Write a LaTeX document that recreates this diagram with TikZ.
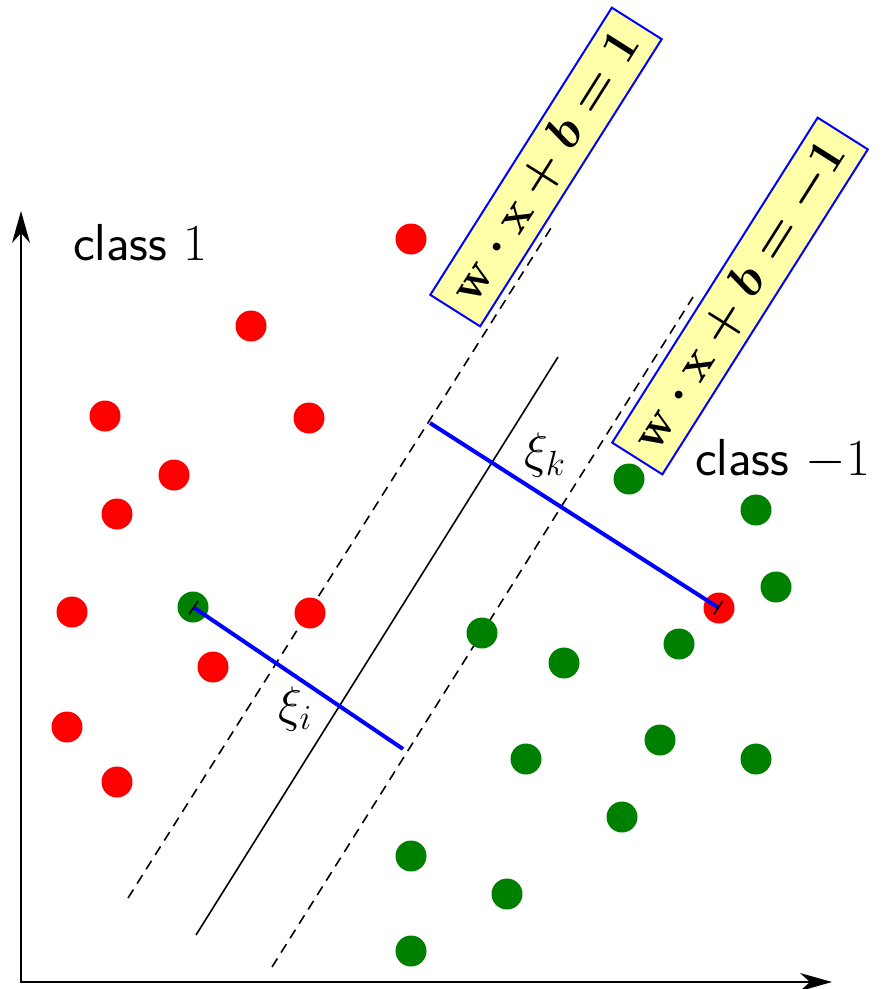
\RequirePackage{fix-cm}
\documentclass[tikz,border=0pt]{standalone}
\usepackage{amsmath}
\usetikzlibrary{arrows.meta}
\definecolor{boxfill}{RGB}{255,255,170}
\definecolor{dotgreen}{RGB}{0,128,0}
\begin{document}
\begin{tikzpicture}[x=1pt,y=-1pt,
  dotred/.style={circle,fill=red,inner sep=0pt,minimum size=31pt},
  dotgrn/.style={circle,fill=dotgreen,inner sep=0pt,minimum size=31pt},
  axisline/.style={line width=1.8pt,{Stealth[length=32pt,width=18pt,inset=10pt]}-{Stealth[length=32pt,width=18pt,inset=10pt]}},
  hyper/.style={line width=1.6pt},
  margin/.style={line width=1.6pt,dash pattern=on 10pt off 7pt},
  slack/.style={line width=4pt,blue,{Bar[black,width=16pt,line width=1.6pt]}-},
  eqbox/.style={draw=blue,fill=boxfill,line width=2pt,inner xsep=14pt,inner ysep=9pt,
    font=\fontsize{50}{60}\selectfont\boldmath},
  lbl/.style={font=\fontsize{52}{62}\selectfont\sffamily,inner sep=0pt},
  xilbl/.style={font=\fontsize{50}{60}\selectfont,inner sep=0pt}
]
\useasboundingbox (0,0) rectangle (881,989);

% axes
\coordinate (ytop) at (21,211);
\coordinate (orig) at (21,982);
\coordinate (xend) at (832,982);
\draw[axisline] (ytop) -- (orig) -- (xend);

% hyperplanes
\coordinate (h0a) at (196,935);
\coordinate (h0b) at (558,357);
\coordinate (hpa) at (128,898);
\coordinate (hpb) at (551,228);
\coordinate (hma) at (272,967);
\coordinate (hmb) at (693,297);
\draw[hyper] (h0a) -- (h0b);
\draw[margin] (hpa) -- (hpb);
\draw[margin] (hma) -- (hmb);

% red points (class 1)
\node[dotred] (r1) at (411,239) {};
\node[dotred] (r2) at (251,326) {};
\node[dotred] (r3) at (105,416) {};
\node[dotred] (r4) at (309,418) {};
\node[dotred] (r5) at (174,475) {};
\node[dotred] (r6) at (117,514) {};
\node[dotred] (r7) at (72,612) {};
\node[dotred] (r8) at (310,613) {};
\node[dotred] (r9) at (213,667) {};
\node[dotred] (r10) at (67,727) {};
\node[dotred] (r11) at (117,782) {};
\node[dotred] (rk) at (719,608) {};

% green points (class -1)
\node[dotgrn] (gi) at (193,607) {};
\node[dotgrn] (g1) at (629,479) {};
\node[dotgrn] (g2) at (756,510) {};
\node[dotgrn] (g3) at (776,587) {};
\node[dotgrn] (g4) at (482,633) {};
\node[dotgrn] (g5) at (564,663) {};
\node[dotgrn] (g6) at (679,644) {};
\node[dotgrn] (g7) at (660,740) {};
\node[dotgrn] (g8) at (526,759) {};
\node[dotgrn] (g9) at (756,759) {};
\node[dotgrn] (g10) at (622,817) {};
\node[dotgrn] (g11) at (411,856) {};
\node[dotgrn] (g12) at (507,894) {};
\node[dotgrn] (g13) at (411,951) {};

% slack distances
\coordinate (xiend) at (403,749);
\coordinate (xkend) at (430,423);
\draw[slack] (gi.center) -- (xiend);
\draw[slack] (rk.center) -- (xkend);

\node[xilbl] (xi) at (295,709) {$\xi_i$};
\node[xilbl] (xk) at (545,455) {$\xi_k$};

% equation boxes
\node[eqbox,rotate=57.7] (b1) at (546,167) {$\mathbf{w}\cdot\mathbf{x}+b=\mathbf{1}$};
\node[eqbox,rotate=57.7] (b2) at (740,296) {$\mathbf{w}\cdot\mathbf{x}+b=-\mathbf{1}$};

% class labels
\node[lbl,anchor=base west] (c1) at (73,260) {class $1$};
\node[lbl,anchor=base west] (c2) at (695,475) {class $-1$};
\end{tikzpicture}
\end{document}
